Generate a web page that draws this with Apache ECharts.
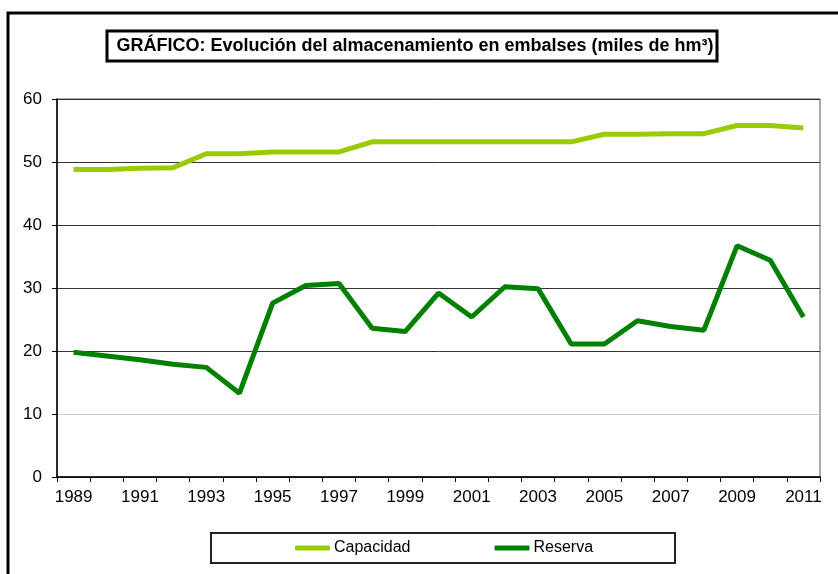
<!DOCTYPE html>
<html>
<head>
<meta charset="utf-8">
<script src="https://cdn.jsdelivr.net/npm/echarts@6/dist/echarts.min.js"></script>
<style>
  html, body { margin: 0; padding: 0; background: #fff; }
  #main { width: 838px; height: 574px; }
</style>
</head>
<body>
<div id="main"></div>
<script>
var years = ['1989', '1990', '1991', '1992', '1993', '1994', '1995', '1996', '1997', '1998', '1999', '2000',
    '2001', '2002', '2003', '2004', '2005', '2006', '2007', '2008', '2009', '2010', '2011'];
var capacidad = [48.8, 48.8, 49.0, 49.1, 51.3, 51.3, 51.6, 51.6, 51.6, 53.2, 53.2, 53.2,
    53.2, 53.2, 53.2, 53.2, 54.4, 54.4, 54.5, 54.5, 55.8, 55.8, 55.4];
var reserva = [19.8, 19.2, 18.6, 17.9, 17.4, 13.3, 27.6, 30.4, 30.7, 23.6, 23.1, 29.2,
    25.4, 30.2, 29.9, 21.1, 21.1, 24.8, 23.9, 23.3, 36.7, 34.4, 25.4];
var yTicks = [0, 10, 20, 30, 40, 50, 60];

var myChart = echarts.init(document.getElementById('main'));

var font = 'Arial, "Liberation Sans", sans-serif';

var option = {
    animation: false,
    backgroundColor: '#fff',
    textStyle: { fontFamily: font },
    graphic: [
        // marco exterior
        { type: 'rect', shape: { x: 8, y: 13, width: 850, height: 600 },
          style: { fill: 'none', stroke: '#000', lineWidth: 3 }, z: 100 },
        // caja del titulo
        { type: 'rect', shape: { x: 107, y: 31, width: 610, height: 30 },
          style: { fill: '#fff', stroke: '#000', lineWidth: 3 }, z: 100 },
        { type: 'text', x: 415, y: 46, z: 101,
          style: { text: 'GRÁFICO: Evolución del almacenamiento en embalses (miles de hm³)',
                   font: 'bold 18px ' + font, fill: '#000', align: 'center', verticalAlign: 'middle' } },
        // caja de la leyenda
        { type: 'rect', shape: { x: 211, y: 533, width: 464, height: 30 },
          style: { fill: 'none', stroke: '#222', lineWidth: 2 }, z: 100 }
    ],
    legend: {
        left: 295,
        top: 540,
        padding: 0,
        itemWidth: 35,
        itemHeight: 5,
        itemGap: 84,
        icon: 'roundRect',
        textStyle: { fontSize: 16, color: '#000', fontFamily: font, padding: [2, 0, 0, -1] },
        data: ['Capacidad', 'Reserva']
    },
    grid: {
        left: 57,
        top: 99,
        right: 18,
        bottom: 97,
        show: true,
        borderColor: '#555',
        borderWidth: 1
    },
    xAxis: {
        type: 'category',
        data: years,
        boundaryGap: true,
        axisLine: { lineStyle: { color: '#000', width: 1.5 } },
        axisTick: { show: true, interval: 0, length: 5, lineStyle: { color: '#000' } },
        axisLabel: { interval: 1, color: '#000', fontSize: 17, margin: 12 }
    },
    yAxis: {
        type: 'value',
        min: yTicks[0],
        max: yTicks[yTicks.length - 1],
        interval: 10,
        axisLine: { show: true, lineStyle: { color: '#000', width: 1.5 } },
        axisTick: { show: true, length: 5, lineStyle: { color: '#000' } },
        axisLabel: { color: '#000', fontSize: 17, margin: 15 },
        splitLine: { lineStyle: { color: ['#333', '#ccc', '#333', '#333', '#333', '#333', '#333'] } }
    },
    series: [{
        name: 'Capacidad',
        type: 'line',
        data: capacidad,
        symbol: 'none',
        color: '#99cc00',
        lineStyle: { width: 5, color: '#99cc00' }
    }, {
        name: 'Reserva',
        type: 'line',
        data: reserva,
        symbol: 'none',
        color: '#008000',
        lineStyle: { width: 5, color: '#008000' }
    }]
};
myChart.setOption(option);
</script>
</body>
</html>
